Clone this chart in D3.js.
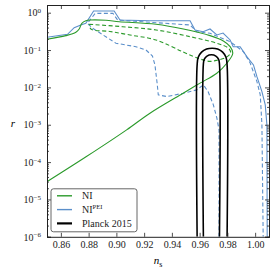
<!DOCTYPE html>
<html>
<head>
<meta charset="utf-8">
<script src="https://cdnjs.cloudflare.com/ajax/libs/d3/7.8.5/d3.min.js"></script>
<style>
body { margin: 0; background: #fff; }
svg text { font-family: "Liberation Serif", serif; }
</style>
</head>
<body>
<div id="chart"></div>
<script>
// ticks
var xTicks = [0.86, 0.88, 0.90, 0.92, 0.94, 0.96, 0.98, 1.00]
var yTickExps = [-6, -5, -4, -3, -2, -1, 0]

// NI (green): solid contour and dashed contour
var niSolidNs = [0.850, 0.8636, 0.8708, 0.8732, 0.8751, 0.8780, 0.8816, 0.8925, 0.9021, 0.9286, 0.9483, 0.9675, 0.9771, 0.9820, 0.9839, 0.9796, 0.9724, 0.9603, 0.9481, 0.9242, 0.9074, 0.8787, 0.8499]
var niSolidR  = [0.194, 0.243, 0.299, 0.366, 0.521, 0.611, 0.638, 0.626, 0.574, 0.490, 0.366, 0.243, 0.175, 0.123, 0.082, 0.0444, 0.0240, 0.0130, 0.0070, 0.00204, 0.00073, 0.000143, 2.97e-5]
var niDashNs = [0.8804, 0.9045, 0.9286, 0.9531, 0.9724, 0.9808, 0.9823, 0.9791, 0.9733, 0.9675, 0.9603, 0.9481, 0.9286, 0.9098, 0.8953, 0.8816, 0.8804]
var niDashR  = [0.490, 0.422, 0.345, 0.228, 0.152, 0.112, 0.0836, 0.0634, 0.0544, 0.0496, 0.0578, 0.0889, 0.186, 0.253, 0.314, 0.366, 0.490]

// NI^PEI (blue): solid and dashed contours
var peiSolidNs = [0.850, 0.8648, 0.8696, 0.8744, 0.8780, 0.8836, 0.8984, 0.9026, 0.9242, 0.9531, 0.9567, 0.9625, 0.9675, 0.9724, 0.9769, 0.9820, 0.9842, 0.9892, 0.9940, 0.9988, 1.0013, 1.0049, 1.0073, 1.0085, 1.0087]
var peiSolidR  = [0.220, 0.264, 0.397, 0.469, 0.521, 1.11, 1.11, 0.638, 0.611, 0.611, 0.345, 0.310, 0.366, 0.253, 0.286, 0.186, 0.123, 0.123, 0.0666, 0.0400, 0.0194, 0.00772, 0.00340, 0.00099, 1e-6]
var peiDashNs = [0.9740, 0.9740, 0.9724, 0.9699, 0.9661, 0.9627, 0.9579, 0.9483, 0.9363, 0.9302, 0.9295, 0.9278, 0.9260, 0.9213, 0.9141, 0.8997, 0.8829, 0.8792, 0.8847, 0.8975, 0.9009, 0.9242, 0.9531, 0.9579, 0.9675, 0.9820, 0.9868, 0.9916, 0.9964, 1.0013, 1.0037, 1.0049, 1.0058]
var peiDashR  = [1e-6, 0.00073, 0.00153, 0.00340, 0.00772, 0.0117, 0.00857, 0.00700, 0.00568, 0.00630, 0.0117, 0.0400, 0.0690, 0.1007, 0.123, 0.152, 0.383, 0.521, 0.96, 0.96, 0.638, 0.554, 0.469, 0.310, 0.281, 0.168, 0.123, 0.0906, 0.0452, 0.0143, 0.0063, 0.00099, 1e-6]

// Planck 2015 (black)
var planckOuterNs = [0.9582, 0.9582, 0.9590, 0.9614, 0.9650, 0.9690, 0.9730, 0.9766, 0.9790, 0.9798, 0.9798]
var planckOuterR  = [1e-6, 0.0400, 0.0640, 0.0880, 0.1060, 0.1120, 0.1060, 0.0880, 0.0640, 0.0400, 1e-6]
var planckInnerNs = [0.9627, 0.9627, 0.9633, 0.9653, 0.9685, 0.9717, 0.9737, 0.9743, 0.9743]
var planckInnerR  = [1e-6, 0.0420, 0.0560, 0.0690, 0.0745, 0.0690, 0.0560, 0.0420, 1e-6]

var legendLabels = ['NI', 'NI', 'Planck 2015']
var legendSup = ['', 'PEI', '']

var green = '#2b9a2b'
var blue = '#5b8fca'
var serif = '"Liberation Serif", serif'

var margin = {top: 5, right: 7, bottom: 36, left: 47}
var width = 276 - margin.left - margin.right
var height = 273 - margin.top - margin.bottom - 0.2

var svg = d3.select('#chart')
			.append('svg')
			.attr('width', 276)
			.attr('height', 273)
			.attr('font-family', serif)

var g = svg.append('g')
			.attr('transform', 'translate(' + margin.left + ',' + margin.top + ')')

var x = d3.scaleLinear().domain([0.85, 1.01]).range([0, width])
var y = d3.scaleLog().domain([1e-6, Math.pow(10, 0.206)]).range([height, 0])

g.append('clipPath').attr('id', 'clip')
	.append('rect').attr('width', width).attr('height', height)

var minorY = []
for (var e = -6; e <= 0; e++) {
	for (var m = 2; m <= 9; m++) {
		var v = m * Math.pow(10, e)
		if (v < y.domain()[1]) minorY.push(v)
	}
}

function zip(a, b) { return a.map(function(d, i) { return [d, b[i]] }) }

var line = d3.line().x(function(d) { return x(d[0]) }).y(function(d) { return y(d[1]) })
var smooth = d3.line().curve(d3.curveCatmullRom.alpha(0.5))
	.x(function(d) { return x(d[0]) }).y(function(d) { return y(d[1]) })

var plot = g.append('g').attr('clip-path', 'url(#clip)')

function draw(gen, ns, r, color, w, dash) {
	plot.append('path')
		.datum(zip(ns, r))
		.attr('d', gen)
		.attr('fill', 'none')
		.attr('stroke', color)
		.attr('stroke-width', w)
		.attr('stroke-dasharray', dash || null)
}

draw(line, peiSolidNs, peiSolidR, blue, 1.1)
draw(line, peiDashNs, peiDashR, blue, 1.1, '4,2.5')
draw(smooth, niSolidNs, niSolidR, green, 1.1)
draw(smooth, niDashNs, niDashR, green, 1.1, '4,2.5')
draw(smooth, planckOuterNs, planckOuterR, '#000', 1.6)
draw(smooth, planckInnerNs, planckInnerR, '#000', 1.6)

// axes, ticks pointing inward
var yMajor = yTickExps.map(function(k) { return Math.pow(10, k) })

g.append('g').attr('class', 'ax')
	.attr('transform', 'translate(0,' + height + ')')
	.call(d3.axisBottom(x).tickValues(xTicks).tickSize(-4).tickPadding(4).tickFormat(d3.format('.2f')))
g.append('g').attr('class', 'ax')
	.call(d3.axisTop(x).tickValues(xTicks).tickSize(-4).tickFormat(''))

var yl = g.append('g').attr('class', 'ax')
	.call(d3.axisLeft(y).tickValues(yMajor).tickSize(-4).tickPadding(6).tickFormat(''))
g.append('g').attr('class', 'ax')
	.call(d3.axisLeft(y).tickValues(minorY).tickSize(-2).tickFormat(''))
g.append('g').attr('class', 'ax')
	.attr('transform', 'translate(' + width + ',0)')
	.call(d3.axisRight(y).tickValues(yMajor).tickSize(-4).tickFormat(''))
g.append('g').attr('class', 'ax')
	.attr('transform', 'translate(' + width + ',0)')
	.call(d3.axisRight(y).tickValues(minorY).tickSize(-2).tickFormat(''))

yl.selectAll('.tick text').each(function(d) {
	var t = d3.select(this)
	var k = Math.round(Math.log10(d))
	t.append('tspan').text('10')
	t.append('tspan').attr('dy', '-0.45em').attr('font-size', '7px').text(k === 0 ? '0' : '\u2212' + (-k))
})

g.selectAll('.ax').attr('font-family', serif)
g.selectAll('.ax text').attr('font-size', '10px').attr('fill', '#222')
g.selectAll('.ax .tick line').attr('stroke', '#222').attr('stroke-width', 0.8)
g.selectAll('.ax .domain').attr('stroke', '#222').attr('stroke-width', 1)

// axis labels
svg.append('text')
	.attr('x', margin.left + width / 2)
	.attr('y', 264)
	.attr('text-anchor', 'middle')
	.attr('font-size', '11px')
	.call(function(t) {
		t.append('tspan').attr('font-style', 'italic').text('n')
		t.append('tspan').attr('dy', '2.5').attr('font-size', '8px').text('s')
	})

svg.append('text')
	.attr('x', 13)
	.attr('y', 127)
	.attr('text-anchor', 'middle')
	.attr('font-size', '11px')
	.attr('font-style', 'italic')
	.text('r')

// legend
var lg = g.append('g').attr('transform', 'translate(4,' + (height - 48) + ')')
lg.append('rect')
	.attr('x', 0).attr('y', 0)
	.attr('width', 86).attr('height', 43)
	.attr('rx', 2.5).attr('ry', 2.5)
	.attr('fill', '#fff').attr('fill-opacity', 0.85)
	.attr('stroke', '#555').attr('stroke-width', 0.9)

var legendColors = [green, blue, '#000']
var legendWidths = [1.4, 1.4, 2.2]
legendLabels.forEach(function(lbl, i) {
	var yy = 7 + i * 13.8
	lg.append('line')
		.attr('x1', 6).attr('x2', 21)
		.attr('y1', yy).attr('y2', yy)
		.attr('stroke', legendColors[i])
		.attr('stroke-width', legendWidths[i])
	var t = lg.append('text')
		.attr('x', 31).attr('y', yy + 3.5)
		.attr('font-size', '10px')
		.attr('fill', '#222')
	t.append('tspan').text(lbl)
	if (legendSup[i]) t.append('tspan').attr('dy', '-4').attr('font-size', '6.5px').text(legendSup[i])
})
</script>
</body>
</html>
